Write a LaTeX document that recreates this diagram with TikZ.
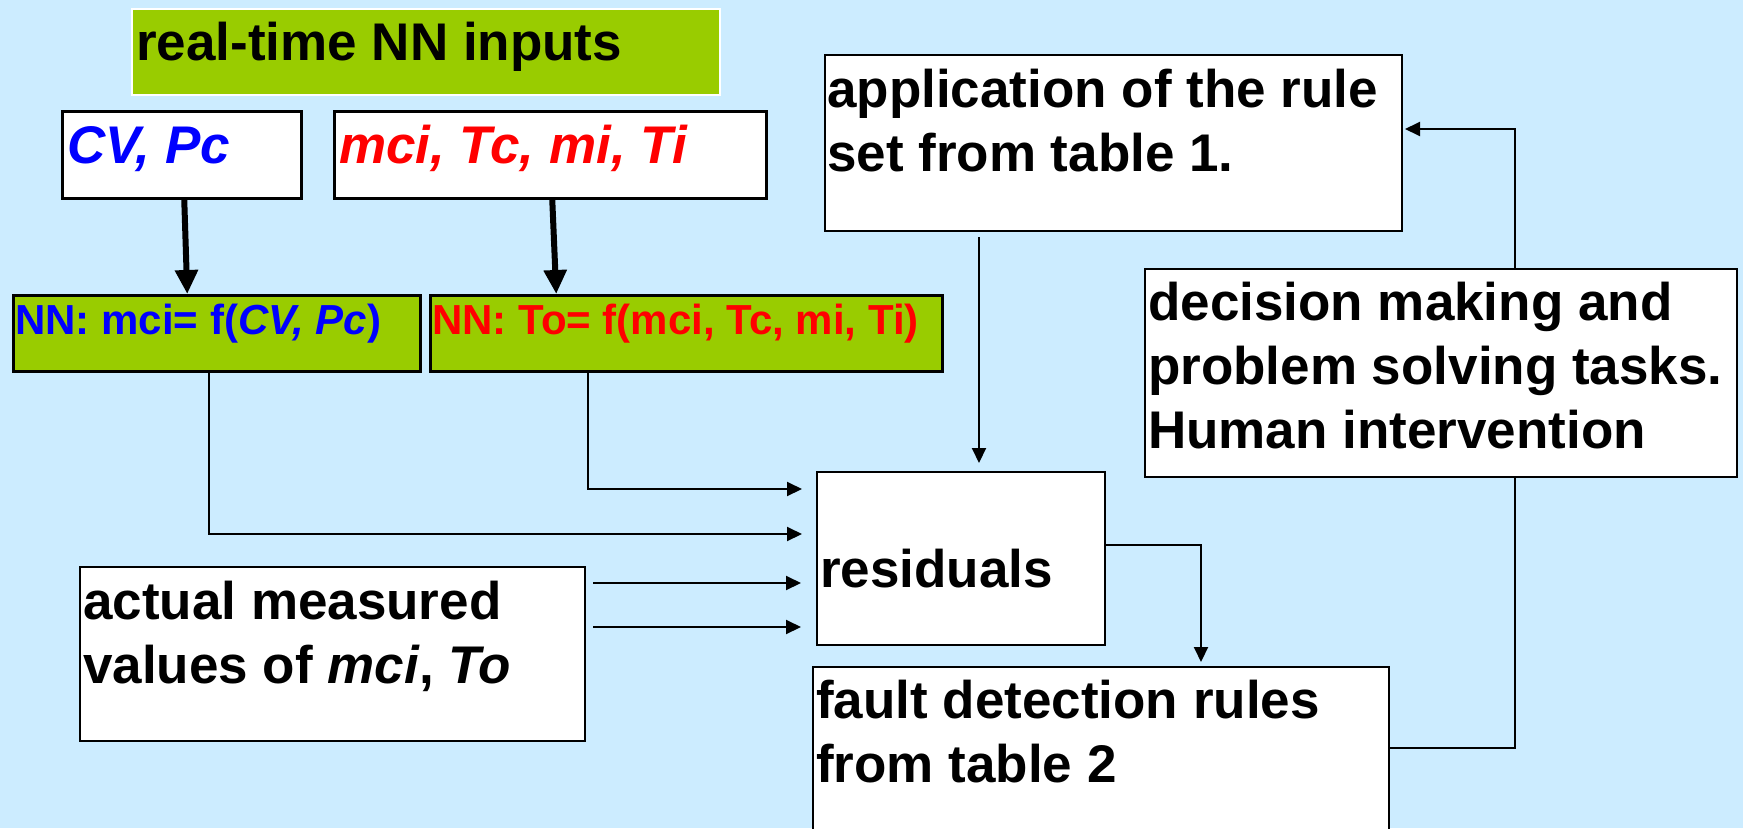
\documentclass[tikz,border=0pt]{standalone}
\usepackage{fontspec}
\setmainfont{Liberation Sans}
\usetikzlibrary{arrows.meta}
\definecolor{bgblue}{HTML}{CCECFF}
\definecolor{nngreen}{HTML}{99CC00}
\begin{document}
\begin{tikzpicture}[x=1pt,y=-1pt,
  box/.style={draw=black, fill=white, line width=2pt, inner sep=0pt, anchor=north west},
  inbox/.style={box, line width=2.5pt},
  nnbox/.style={box, fill=nngreen, line width=2.5pt},
  titlebox/.style={box, fill=nngreen, draw=white, line width=2pt},
  txt/.style={inner sep=0pt, anchor=base west, align=left, font=\bfseries\fontsize{53}{64}\selectfont},
  nntxt/.style={inner sep=0pt, anchor=base west, font=\bfseries\fontsize{42}{50}\selectfont},
  conn/.style={line width=2pt, -{Triangle[length=15pt,width=14pt]}},
  plain/.style={line width=2pt},
  thickarrow/.style={line width=6pt, -{Triangle[length=24pt,width=22pt]}}]
\useasboundingbox (0,0) rectangle (1743,828);
\fill[bgblue] (0,0) rectangle (1743,828);

% boxes
\node[titlebox, minimum width=588pt, minimum height=86pt] (title) at (131,8) {};
\node[inbox, minimum width=239pt, minimum height=87pt] (cv) at (61,110) {};
\node[inbox, minimum width=432pt, minimum height=87pt] (mci) at (333,110) {};
\node[nnbox, minimum width=407pt, minimum height=76pt] (nn1) at (12,294) {};
\node[nnbox, minimum width=512pt, minimum height=76pt] (nn2) at (429,294) {};
\node[box, minimum width=577pt, minimum height=176pt] (app) at (824,54) {};
\node[box, minimum width=592pt, minimum height=208pt] (dec) at (1144,268) {};
\node[box, minimum width=288pt, minimum height=173pt] (res) at (816,471) {};
\node[box, minimum width=505pt, minimum height=174pt] (act) at (79,566) {};
\node[box, minimum width=576pt, minimum height=164pt] (fault) at (812,666) {};

% texts (anchor base = baseline of the last line)
\node[txt] (ttitle) at (136,60) {real-time NN inputs};
\node[txt, text=blue] (tcv) at (67,163) {\itshape CV, Pc};
\node[txt, text=red] (tmci) at (339,163) {\itshape mci, Tc, mi, Ti};
\node[nntxt, text=blue] (tnn1) at (15,334) {NN: mci= f(\textit{CV, Pc})};
\node[nntxt, text=red] (tnn2) at (432,334) {NN: To= f(mci, Tc, mi, Ti)};
\node[txt] (tapp) at (827,171) {application of the rule\\set from table 1.};
\node[txt] (tdec) at (1148,448) {decision making and\\problem solving tasks.\\Human intervention};
\node[txt] (tres) at (820,587) {residuals};
\node[txt] (tact) at (83,683) {actual measured\\values of \textit{mci}, \textit{To}};
\node[txt] (tfault) at (816,782) {fault detection rules\\from table 2};

% connectors
\draw[thickarrow] ([xshift=2.5pt]cv.south) -- ([xshift=-29.5pt]nn1.north);
\draw[thickarrow] ([xshift=2pt]mci.south) -- ([xshift=-130pt]nn2.north);
\coordinate (r1) at (802,489);
\coordinate (r2) at (802,534);
\draw[conn] ([xshift=-98pt]nn2.south) |- (r1);
\draw[conn] ([xshift=-7.5pt]nn1.south) |- (r2);
\draw[conn] ([xshift=7pt,yshift=71pt]act.east) -- ++(208,0);
\draw[conn] ([xshift=7pt,yshift=27pt]act.east) -- ++(208,0);
\draw[conn] ([xshift=-134.5pt,yshift=-5pt]app.south) -- ([xshift=18pt,yshift=8pt]res.north);
\draw[conn] ([yshift=13.5pt]res.east) -| ([xshift=100pt,yshift=4pt]fault.north);
\draw[plain] ([yshift=1pt]fault.east) -| ([xshift=74pt]dec.south);
\draw[conn] ([xshift=74pt]dec.north) |- ([xshift=2pt,yshift=14pt]app.east);
\end{tikzpicture}
\end{document}
